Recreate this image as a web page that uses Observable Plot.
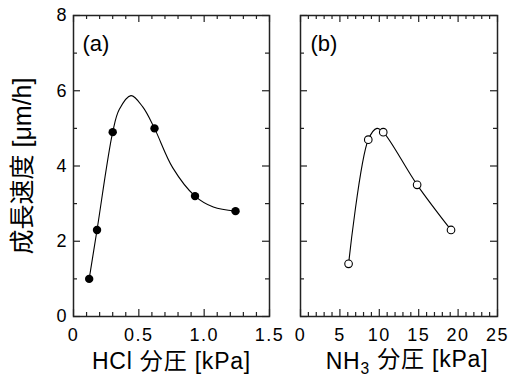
<!DOCTYPE html>
<html>
<head>
<meta charset="utf-8">
<script src="https://cdn.jsdelivr.net/npm/d3@7"></script>
<script src="https://cdn.jsdelivr.net/npm/@observablehq/plot@0.6"></script>
<style>
  html, body { margin: 0; padding: 0; background: #fff; }
  #wrap { position: relative; width: 509px; height: 382px; overflow: hidden; }
  #left, #right { position: absolute; top: 0; }
  #left { left: 0; }
  #right { left: 285px; }
  svg { overflow: visible; }
</style>
</head>
<body>
<div id="wrap"><div id="left"></div><div id="right"></div></div>
<script>
// ---- data ----
const hclX = [0.12, 0.18, 0.30, 0.62, 0.93, 1.24];
const hclY = [1.0, 2.3, 4.9, 5.0, 3.2, 2.8];
// hand-drawn fit curve through (a)
const fitAX = [0.12, 0.18, 0.30, 0.35, 0.44, 0.53, 0.62, 0.76, 0.93, 1.07, 1.24];
const fitAY = [1.0, 2.3, 4.9, 5.5, 5.87, 5.57, 5.0, 3.95, 3.2, 2.91, 2.8];

const nh3X = [6.1, 8.6, 10.5, 14.8, 19.1];
const nh3Y = [1.4, 4.7, 4.9, 3.5, 2.3];
// hand-drawn fit curve through (b)
const fitBX = [6.1, 8.6, 9.7, 10.5, 14.8, 19.1];
const fitBY = [1.4, 4.7, 5.0, 4.9, 3.5, 2.3];

const yMajor = [0, 2, 4, 6, 8];
const yMinor = [1, 3, 5, 7];
const xMajorA = [0, 0.5, 1.0, 1.5];
const xMinorA = [0.1, 0.2, 0.3, 0.4, 0.6, 0.7, 0.8, 0.9, 1.1, 1.2, 1.3, 1.4];
const xMajorB = [0, 5, 10, 15, 20, 25];
const xMinorB = [1,2,3,4,6,7,8,9,11,12,13,14,16,17,18,19,21,22,23,24];

const yLabel = "成長速度 [μm/h]";
const xLabelA = "HCl 分圧 [kPa]";
const xLabelB = "NH3 分圧 [kPa]";

const FONT = "'Liberation Sans', Arial, 'Noto Sans CJK JP', sans-serif";
const H = 382, MT = 15, MB = 66;
const FH = H - MT - MB;

const zipA = hclX.map((x, i) => ({x, y: hclY[i]}));
const fitA = fitAX.map((x, i) => ({x, y: fitAY[i]}));
const zipB = nh3X.map((x, i) => ({x, y: nh3Y[i]}));
const fitB = fitBX.map((x, i) => ({x, y: fitBY[i]}));

function tickMarks(xMajor, xMinor, FW) {
  const s = {stroke: "#222", strokeWidth: 1.2};
  return [
    Plot.tickX(xMajor, {x: d => d, insetTop: FH - 7, ...s}),
    Plot.tickX(xMinor, {x: d => d, insetTop: FH - 4, ...s}),
    Plot.tickX(xMajor, {x: d => d, insetBottom: FH - 7, ...s}),
    Plot.tickX(xMinor, {x: d => d, insetBottom: FH - 4, ...s}),
    Plot.tickY(yMajor, {y: d => d, insetRight: FW - 7, ...s}),
    Plot.tickY(yMinor, {y: d => d, insetRight: FW - 4, ...s}),
    Plot.tickY(yMajor, {y: d => d, insetLeft: FW - 7, ...s}),
    Plot.tickY(yMinor, {y: d => d, insetLeft: FW - 4, ...s})
  ];
}

// ---- left panel (a) ----
const WL = 290, MLL = 73, MRL = WL - 269;
const left = Plot.plot({
  width: WL, height: H, marginLeft: MLL, marginRight: MRL, marginTop: MT, marginBottom: MB,
  style: {fontFamily: FONT, fontSize: "18px", color: "#000", background: "transparent"},
  x: {domain: [0, 1.5], axis: null},
  y: {domain: [0, 8], axis: null},
  marks: [
    Plot.line(fitA, {x: "x", y: "y", curve: "catmull-rom", stroke: "#000", strokeWidth: 1.1}),
    Plot.dot(zipA, {x: "x", y: "y", r: 4.2, fill: "#000", stroke: "none"}),
    ...tickMarks(xMajorA, xMinorA, WL - MLL - MRL),
    Plot.frame({stroke: "#222", strokeWidth: 1.5}),
    Plot.axisX({ticks: xMajorA, tickSize: 0, tickPadding: 12, label: null,
      tickFormat: d => d === 0 ? "0" : d.toFixed(1), fontSize: 18}),
    Plot.axisY({ticks: yMajor, tickSize: 0, tickPadding: 7, label: null, fontSize: 18}),
    Plot.text(["(a)"], {text: d => d, frameAnchor: "top-left", dx: 9, dy: 28, textAnchor: "start", lineAnchor: "middle", fontSize: 22}),
    Plot.text([xLabelA], {text: d => d, frameAnchor: "bottom", dy: 45, textAnchor: "middle", lineAnchor: "middle", fontSize: 23}),
    Plot.text([yLabel], {text: d => d, frameAnchor: "left", dx: -51, rotate: -90, textAnchor: "middle", lineAnchor: "middle", fontSize: 25})
  ]
});
document.getElementById("left").appendChild(left);

// ---- right panel (b) ----
const WR = 224, MLR = 15, MRR = 12;
const right = Plot.plot({
  width: WR, height: H, marginLeft: MLR, marginRight: MRR, marginTop: MT, marginBottom: MB,
  style: {fontFamily: FONT, fontSize: "18px", color: "#000", background: "transparent"},
  x: {domain: [0, 25], axis: null},
  y: {domain: [0, 8], axis: null},
  marks: [
    Plot.line(fitB, {x: "x", y: "y", curve: "catmull-rom", stroke: "#000", strokeWidth: 1.1}),
    Plot.dot(zipB, {x: "x", y: "y", r: 3.8, fill: "#fff", stroke: "#000", strokeWidth: 1.1}),
    ...tickMarks(xMajorB, xMinorB, WR - MLR - MRR),
    Plot.frame({stroke: "#222", strokeWidth: 1.5}),
    Plot.axisX({ticks: xMajorB, tickSize: 0, tickPadding: 12, label: null, tickFormat: d => String(d), fontSize: 18}),
    Plot.text(["(b)"], {text: d => d, frameAnchor: "top-left", dx: 10, dy: 28, textAnchor: "start", lineAnchor: "middle", fontSize: 22}),
    Plot.text([xLabelB], {text: d => d, frameAnchor: "bottom", dx: 8, dy: 45, textAnchor: "middle", lineAnchor: "middle", fontSize: 23})
  ]
});
document.getElementById("right").appendChild(right);

// subscript the 3 in NH3
d3.select(right).selectAll("text").each(function () {
  if (this.textContent === xLabelB) {
    const t = d3.select(this);
    t.text(null);
    t.append("tspan").text("NH");
    t.append("tspan").attr("dy", "0.3em").attr("font-size", "0.68em").text("3");
    t.append("tspan").attr("dy", "-0.3em").text(" 分圧 [kPa]");
  }
});
// wider spacing for tick labels and axis titles
for (const svg of [left, right]) {
  d3.select(svg).selectAll('g[aria-label="x-axis tick label"] text').attr("letter-spacing", "1.5px");
  d3.select(svg).selectAll("text").each(function () {
    const c = this.textContent;
    if (c === xLabelA || c.startsWith("NH")) d3.select(this).attr("letter-spacing", "0.8px");
  });
}
</script>
</body>
</html>
